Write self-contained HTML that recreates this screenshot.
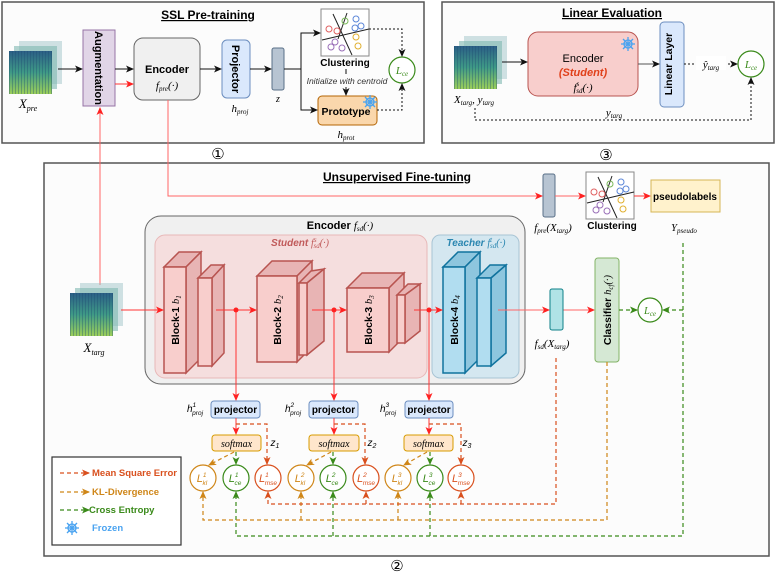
<!DOCTYPE html>
<html><head><meta charset="utf-8"><style>
html,body{margin:0;padding:0;background:#fff}
svg{display:block}
text{font-family:"Liberation Sans",sans-serif}
.m{font-family:"Liberation Serif",serif;font-style:italic}
.b{font-weight:bold}
</style></head><body>
<svg width="776" height="576" viewBox="0 0 776 576" xmlns="http://www.w3.org/2000/svg">
<defs>
<marker id="ak" markerWidth="8" markerHeight="8" refX="7" refY="4" orient="auto" markerUnits="userSpaceOnUse"><path d="M0,0.5 L8,4 L0,7.5 L2,4 Z" fill="#111"/></marker>
<marker id="ar" markerWidth="8" markerHeight="8" refX="7" refY="4" orient="auto" markerUnits="userSpaceOnUse"><path d="M0,0.5 L8,4 L0,7.5 L2,4 Z" fill="#f22"/></marker>
<marker id="am" markerWidth="8" markerHeight="8" refX="7" refY="4" orient="auto" markerUnits="userSpaceOnUse"><path d="M0,0.5 L8,4 L0,7.5 L2,4 Z" fill="#d9501e"/></marker>
<marker id="ao" markerWidth="8" markerHeight="8" refX="7" refY="4" orient="auto" markerUnits="userSpaceOnUse"><path d="M0,0.5 L8,4 L0,7.5 L2,4 Z" fill="#cf8618"/></marker>
<marker id="ag" markerWidth="8" markerHeight="8" refX="7" refY="4" orient="auto" markerUnits="userSpaceOnUse"><path d="M0,0.5 L8,4 L0,7.5 L2,4 Z" fill="#3a8a1a"/></marker>
<linearGradient id="sp" x1="0" y1="0" x2="0" y2="1"><stop offset="0" stop-color="#2b5f86"/><stop offset="0.5" stop-color="#3f9a86"/><stop offset="1" stop-color="#9ccf5a"/></linearGradient>
<pattern id="st" width="3" height="6" patternUnits="userSpaceOnUse"><rect width="1" height="6" fill="#1d4a70" opacity="0.35"/></pattern>
<g id="spec">
<rect x="10" y="0" width="43" height="43" fill="#9fc4c8" opacity="0.5"/>
<rect x="5" y="5" width="43" height="43" fill="#7fb7b0" opacity="0.6"/>
<rect x="0" y="10" width="43" height="43" fill="url(#sp)"/>
<rect x="0" y="10" width="43" height="43" fill="url(#st)"/>
</g>
<g id="clu">
<rect x="0" y="0" width="48" height="47" fill="#fff" stroke="#888"/>
<line x1="12" y1="5" x2="31" y2="46" stroke="#222"/>
<line x1="26" y1="4" x2="17" y2="30" stroke="#222"/>
<line x1="1" y1="31" x2="48" y2="20" stroke="#222"/>
<g fill="none" stroke-width="1">
<circle cx="8" cy="20" r="3" stroke="#e06060"/><circle cx="16" cy="22" r="3" stroke="#e06060"/>
<circle cx="24" cy="12" r="3" stroke="#7ab85a"/>
<circle cx="35" cy="10" r="3" stroke="#5b86d8"/><circle cx="40" cy="17" r="3" stroke="#5b86d8"/><circle cx="34" cy="19" r="3" stroke="#5b86d8"/>
<circle cx="14" cy="33" r="3" stroke="#9a70b8"/><circle cx="10" cy="38" r="3" stroke="#9a70b8"/><circle cx="21" cy="39" r="3" stroke="#9a70b8"/>
<circle cx="35" cy="28" r="3" stroke="#e0b030"/><circle cx="37" cy="37" r="3" stroke="#e0b030"/>
</g>
</g>
<g id="snow" stroke="#4aa3f0" stroke-width="1.3" fill="none">
<circle cx="0" cy="0" r="4"/><line x1="-7" y1="0" x2="7" y2="0"/><line x1="0" y1="-7" x2="0" y2="7"/><line x1="-5" y1="-5" x2="5" y2="5"/><line x1="-5" y1="5" x2="5" y2="-5"/>
</g>
</defs>

<!-- Box 1 -->
<rect x="2" y="2" width="422" height="141" fill="#fcfcfc" stroke="#555" stroke-width="1.5"/>
<text x="208" y="19" text-anchor="middle" class="b" font-size="12" text-decoration="underline">SSL Pre-training</text>
<use href="#spec" x="9" y="41"/>
<text x="28" y="108" class="m" font-size="13" text-anchor="middle">X<tspan font-size="8" dy="3">pre</tspan></text>
<rect x="83" y="30" width="32" height="76" fill="#e1d5e7" stroke="#9673a6"/>
<text transform="translate(95,68) rotate(90)" text-anchor="middle" class="b" font-size="11">Augmentation</text>
<rect x="134" y="38" width="66" height="62" rx="9" fill="#f0f0f0" stroke="#666"/>
<text x="167" y="73" text-anchor="middle" class="b" font-size="11">Encoder</text>
<text x="167" y="89" text-anchor="middle" class="m" font-size="11">f<tspan font-size="7" dy="2">pre</tspan><tspan dy="-2">(·)</tspan></text>
<rect x="222" y="40" width="28" height="58" rx="5" fill="#dae8fc" stroke="#6c8ebf"/>
<text transform="translate(232,69) rotate(90)" text-anchor="middle" class="b" font-size="11">Projector</text>
<text x="240" y="112" text-anchor="middle" class="m" font-size="11">h<tspan font-size="7" dy="2">proj</tspan></text>
<rect x="272" y="48" width="12" height="42" rx="2" fill="#b7c4d2" stroke="#5a7088"/>
<text x="278" y="102" text-anchor="middle" class="m" font-size="10">z</text>
<use href="#clu" x="321" y="9"/>
<text x="345" y="66" text-anchor="middle" class="b" font-size="10">Clustering</text>
<text x="347" y="84" text-anchor="middle" font-size="8.5" font-style="italic" fill="#333">Initialize with centroid</text>
<rect x="318" y="96" width="59" height="29" rx="4" fill="#fad7ac" stroke="#b46504"/>
<text x="346" y="115" text-anchor="middle" class="b" font-size="10.5">Prototype</text>
<use href="#snow" x="370" y="102"/>
<text x="346" y="138" text-anchor="middle" class="m" font-size="11">h<tspan font-size="7" dy="2">prot</tspan></text>
<circle cx="402" cy="70" r="13" fill="#fff" stroke="#3a8a1a" stroke-width="1.2"/>
<text x="402" y="74" text-anchor="middle" class="m" font-size="11" fill="#3a8a1a">L<tspan font-size="7" dy="2">ce</tspan></text>
<g stroke="#111" fill="none" stroke-width="1">
<line x1="58" y1="69" x2="82" y2="69" marker-end="url(#ak)"/>
<line x1="115" y1="69" x2="133" y2="69" marker-end="url(#ak)"/>
<line x1="200" y1="69" x2="221" y2="69" marker-end="url(#ak)"/>
<line x1="250" y1="69" x2="271" y2="69" marker-end="url(#ak)"/>
<polyline points="284,69 301,69 301,33 320,33" marker-end="url(#ak)"/>
<polyline points="301,69 301,110 317,110" marker-end="url(#ak)"/>
<line x1="346" y1="69" x2="346" y2="74"/>
<line x1="346" y1="87" x2="346" y2="95" marker-end="url(#ak)"/>
<polyline points="369,29 402,29 402,56" stroke-dasharray="2,2" marker-end="url(#ak)"/>
<polyline points="377,110 402,110 402,84" stroke-dasharray="2,2" marker-end="url(#ak)"/>
</g>
<line x1="115" y1="84" x2="133" y2="84" stroke="#f33" marker-end="url(#ar)"/>
<text x="218" y="159" text-anchor="middle" font-size="15" font-family="DejaVu Sans">①</text>

<!-- Box 3 -->
<rect x="442" y="2" width="332" height="141" fill="#fcfcfc" stroke="#555" stroke-width="1.5"/>
<text x="612" y="17" text-anchor="middle" class="b" font-size="12" text-decoration="underline">Linear Evaluation</text>
<use href="#spec" x="454" y="36"/>
<text x="474" y="103" text-anchor="middle" class="m" font-size="11">X<tspan font-size="7" dy="2">targ</tspan><tspan dy="-2">, y</tspan><tspan font-size="7" dy="2">targ</tspan></text>
<rect x="528" y="32" width="110" height="64" rx="10" fill="#f8cecc" stroke="#b85450"/>
<use href="#snow" x="628" y="44"/>
<text x="583" y="62" text-anchor="middle" font-size="11">Encoder</text>
<text x="583" y="76" text-anchor="middle" class="b" font-size="11" font-style="italic" fill="#e0401a">(Student)</text>
<text x="583" y="91" text-anchor="middle" class="m" font-size="11">f<tspan font-size="7" dy="-5">s</tspan><tspan font-size="7" dx="-3" dy="7">sd</tspan><tspan dy="-2">(·)</tspan></text>
<rect x="660" y="22" width="24" height="85" rx="4" fill="#dae8fc" stroke="#6c8ebf"/>
<text transform="translate(672,64) rotate(-90)" text-anchor="middle" class="b" font-size="10.5">Linear Layer</text>
<line x1="502" y1="62" x2="527" y2="62" stroke="#111" marker-end="url(#ak)"/>
<line x1="638" y1="64" x2="659" y2="64" stroke="#555" marker-end="url(#ak)"/>
<line x1="684" y1="64" x2="737" y2="64" stroke="#111" stroke-dasharray="2,2" marker-end="url(#ak)"/>
<rect x="696" y="56" width="30" height="14" fill="#fff"/>
<text x="711" y="68" text-anchor="middle" class="m" font-size="11">ŷ<tspan font-size="7" dy="2">targ</tspan></text>
<circle cx="751" cy="64" r="13" fill="#fff" stroke="#3a8a1a" stroke-width="1.2"/>
<text x="751" y="68" text-anchor="middle" class="m" font-size="11" fill="#3a8a1a">L<tspan font-size="7" dy="2">ce</tspan></text>
<polyline points="475,108 475,120 751,120 751,78" fill="none" stroke="#111" stroke-dasharray="2,2" marker-end="url(#ak)"/>
<text x="614" y="116" text-anchor="middle" class="m" font-size="11">y<tspan font-size="7" dy="2">targ</tspan></text>
<text x="606" y="160" text-anchor="middle" font-size="15" font-family="DejaVu Sans">③</text>

<!-- Box 2 -->
<rect x="44" y="163" width="725" height="393" fill="#fcfcfc" stroke="#555" stroke-width="1.5"/>
<text x="397" y="181" text-anchor="middle" class="b" font-size="12" text-decoration="underline">Unsupervised Fine-tuning</text>
<text x="397" y="571" text-anchor="middle" font-size="15" font-family="DejaVu Sans">②</text>
<line x1="100" y1="285" x2="100" y2="108" stroke="#f66" marker-end="url(#ar)"/>
<polyline points="168,100 168,196 542,196" fill="none" stroke="#f66" marker-end="url(#ar)"/>
<rect x="543" y="174" width="12" height="43" rx="2" fill="#b7c4d2" stroke="#5a7088"/>
<text x="553" y="231" text-anchor="middle" class="m" font-size="11">f<tspan font-size="7" dy="2">pre</tspan><tspan dy="-2">(X</tspan><tspan font-size="7" dy="2">targ</tspan><tspan dy="-2">)</tspan></text>
<line x1="555" y1="196" x2="585" y2="196" stroke="#f66" marker-end="url(#ar)"/>
<use href="#clu" x="586" y="172"/>
<text x="612" y="229" text-anchor="middle" class="b" font-size="10">Clustering</text>
<line x1="634" y1="196" x2="650" y2="196" stroke="#f33" marker-end="url(#ar)"/>
<rect x="651" y="180" width="69" height="32" fill="#fff2cc" stroke="#d6b656"/>
<text x="685" y="200" text-anchor="middle" class="b" font-size="10">pseudolabels</text>
<text x="684" y="231" text-anchor="middle" class="m" font-size="10.5">Y<tspan font-size="7" dy="2">pseudo</tspan></text>

<use href="#spec" x="70" y="283"/>
<text x="94" y="352" text-anchor="middle" class="m" font-size="13">X<tspan font-size="8" dy="3">targ</tspan></text>

<rect x="145" y="216" width="380" height="168" rx="16" fill="#f0f0f0" stroke="#666"/>
<text x="340" y="229" text-anchor="middle" font-size="11"><tspan class="b">Encoder </tspan><tspan class="m">f<tspan font-size="7" dy="2">sd</tspan><tspan dy="-2">(·)</tspan></tspan></text>
<rect x="155" y="235" width="272" height="143" rx="10" fill="#f5dede" stroke="#e8b8b8"/>
<text x="300" y="246" text-anchor="middle" font-size="10" fill="#c05a5a"><tspan font-style="italic" font-weight="bold">Student </tspan><tspan class="m">f<tspan font-size="7" dy="-4">s</tspan><tspan font-size="7" dx="-3" dy="6">sd</tspan><tspan dy="-2">(·)</tspan></tspan></text>
<rect x="432" y="235" width="87" height="143" rx="8" fill="#d4e7f0" stroke="#a8c4d4"/>
<text x="476" y="246" text-anchor="middle" font-size="10" fill="#2a86b0"><tspan font-style="italic" font-weight="bold">Teacher </tspan><tspan class="m">f<tspan font-size="7" dy="-4">t</tspan><tspan font-size="7" dx="-2" dy="6">sd</tspan><tspan dy="-2">(·)</tspan></tspan></text>

<g stroke="#b85450" stroke-width="1.5" fill="#f8cecc">
<polygon points="164,267 179,252 201,252 186,267" fill="#e8b4b4"/><polygon points="186,267 201,252 201,358 186,373" fill="#e8b4b4"/><rect x="164" y="267" width="22" height="106"/>
<polygon points="198,278 211,265 224,265 212,278" fill="#e8b4b4"/><polygon points="212,278 224,265 224,353 212,366" fill="#e8b4b4"/><rect x="198" y="278" width="14" height="88"/>
<polygon points="257,276 272,261 312,261 297,276" fill="#e8b4b4"/><polygon points="297,276 312,261 312,347 297,362" fill="#e8b4b4"/><rect x="257" y="276" width="40" height="86"/>
<polygon points="299,283 311,271 324,269 307,283" fill="#e8b4b4"/><polygon points="307,283 324,269 324,341 307,355" fill="#e8b4b4"/><rect x="299" y="283" width="8" height="72"/>
<polygon points="347,288 362,273 404,273 389,288" fill="#e8b4b4"/><polygon points="389,288 404,273 404,337 389,352" fill="#e8b4b4"/><rect x="347" y="288" width="42" height="64"/>
<polygon points="397,295 408,284 420,284 405,295" fill="#e8b4b4"/><polygon points="405,295 420,284 420,331 405,343" fill="#e8b4b4"/><rect x="397" y="295" width="8" height="48"/>
</g>
<g stroke="#10739e" stroke-width="1.5" fill="#b1ddf0">
<polygon points="443,267 458,252 480,252 465,267" fill="#8ec6de"/><polygon points="465,267 480,252 480,358 465,373" fill="#8ec6de"/><rect x="443" y="267" width="22" height="106"/>
<polygon points="477,278 490,265 506,265 491,278" fill="#8ec6de"/><polygon points="491,278 506,265 506,353 491,366" fill="#8ec6de"/><rect x="477" y="278" width="14" height="88"/>
</g>
<g class="b" font-size="10.5">
<text transform="translate(179,320) rotate(-90)" text-anchor="middle">Block-1 <tspan class="m" font-weight="normal">b<tspan font-size="7" dy="2">1</tspan></tspan></text>
<text transform="translate(281,320) rotate(-90)" text-anchor="middle">Block-2 <tspan class="m" font-weight="normal">b<tspan font-size="7" dy="2">2</tspan></tspan></text>
<text transform="translate(372,320) rotate(-90)" text-anchor="middle">Block-3 <tspan class="m" font-weight="normal">b<tspan font-size="7" dy="2">3</tspan></tspan></text>
<text transform="translate(458,320) rotate(-90)" text-anchor="middle">Block-4 <tspan class="m" font-weight="normal">b<tspan font-size="7" dy="2">4</tspan></tspan></text>
</g>
<g stroke="#f33" fill="none">
<line x1="121" y1="310" x2="163" y2="310" marker-end="url(#ar)"/>
<line x1="216" y1="310" x2="256" y2="310" marker-end="url(#ar)"/>
<line x1="312" y1="310" x2="346" y2="310" marker-end="url(#ar)"/>
<line x1="414" y1="310" x2="442" y2="310" marker-end="url(#ar)"/>
<line x1="498" y1="310" x2="549" y2="310" stroke="#f66" marker-end="url(#ar)"/>
<line x1="563" y1="310" x2="594" y2="310" stroke="#f66" marker-end="url(#ar)"/>
<line x1="236" y1="310" x2="236" y2="400" marker-end="url(#ar)"/>
<line x1="334" y1="310" x2="334" y2="400" marker-end="url(#ar)"/>
<line x1="429" y1="310" x2="429" y2="400" marker-end="url(#ar)"/>
</g>
<g fill="#f22"><circle cx="236" cy="310" r="2.5"/><circle cx="334" cy="310" r="2.5"/><circle cx="429" cy="310" r="2.5"/></g>

<rect x="550" y="289" width="13" height="41" rx="2" fill="#b0e3e6" stroke="#0e8088"/>
<text x="552" y="347" text-anchor="middle" class="m" font-size="11">f<tspan font-size="7" dy="2">sd</tspan><tspan dy="-2">(X</tspan><tspan font-size="7" dy="2">targ</tspan><tspan dy="-2">)</tspan></text>
<rect x="595" y="258" width="24" height="104" rx="3" fill="#d5e8d4" stroke="#82b366"/>
<text transform="translate(611,310) rotate(-90)" text-anchor="middle" class="b" font-size="10.5">Classifier <tspan class="m" font-weight="normal">h<tspan font-size="7" dy="2">cf</tspan><tspan dy="-2">(·)</tspan></tspan></text>
<circle cx="650" cy="310" r="12" fill="#fff" stroke="#3a8a1a" stroke-width="1.2"/>
<text x="650" y="314" text-anchor="middle" class="m" font-size="10.5" fill="#3a8a1a">L<tspan font-size="7" dy="2">ce</tspan></text>
<g fill="none" stroke-width="1.2" stroke-dasharray="4,3">
<line x1="619" y1="310" x2="637" y2="310" stroke="#3a8a1a" marker-end="url(#ag)"/>
<line x1="683" y1="310" x2="663" y2="310" stroke="#3a8a1a" marker-end="url(#ag)"/>
<polyline points="683,243 683,536 236,536 236,492" stroke="#3a8a1a" marker-end="url(#ag)"/>
<line x1="333" y1="536" x2="333" y2="492" stroke="#3a8a1a" marker-end="url(#ag)"/>
<line x1="430" y1="536" x2="430" y2="492" stroke="#3a8a1a" marker-end="url(#ag)"/>
<polyline points="607,362 607,520 203,520 203,492" stroke="#cf8618" marker-end="url(#ao)"/>
<line x1="301" y1="520" x2="301" y2="492" stroke="#cf8618" marker-end="url(#ao)"/>
<line x1="398" y1="520" x2="398" y2="492" stroke="#cf8618" marker-end="url(#ao)"/>
<polyline points="556,358 556,504 268,504 268,492" stroke="#d9501e" marker-end="url(#am)"/>
<line x1="366" y1="504" x2="366" y2="492" stroke="#d9501e" marker-end="url(#am)"/>
<line x1="461" y1="504" x2="461" y2="492" stroke="#d9501e" marker-end="url(#am)"/>
</g>

<g font-size="10">
<rect x="211" y="401" width="49" height="17" rx="3" fill="#dae8fc" stroke="#6c8ebf"/>
<text x="235.5" y="413" text-anchor="middle" class="b">projector</text>
<rect x="309" y="401" width="49" height="17" rx="3" fill="#dae8fc" stroke="#6c8ebf"/>
<text x="333.5" y="413" text-anchor="middle" class="b">projector</text>
<rect x="405" y="401" width="48" height="17" rx="3" fill="#dae8fc" stroke="#6c8ebf"/>
<text x="429" y="413" text-anchor="middle" class="b">projector</text>
<rect x="212" y="435" width="49" height="16" rx="3" fill="#ffe6cc" stroke="#d79b00"/>
<text x="236.5" y="447" text-anchor="middle" class="m">softmax</text>
<rect x="309" y="435" width="50" height="16" rx="3" fill="#ffe6cc" stroke="#d79b00"/>
<text x="334" y="447" text-anchor="middle" class="m">softmax</text>
<rect x="404" y="435" width="49" height="16" rx="3" fill="#ffe6cc" stroke="#d79b00"/>
<text x="428.5" y="447" text-anchor="middle" class="m">softmax</text>
</g>
<g class="m" font-size="10">
<text x="195" y="412" text-anchor="middle">h<tspan font-size="6.5" dy="-5">1</tspan><tspan font-size="6.5" dx="-4" dy="8">proj</tspan></text>
<text x="293" y="412" text-anchor="middle">h<tspan font-size="6.5" dy="-5">2</tspan><tspan font-size="6.5" dx="-4" dy="8">proj</tspan></text>
<text x="388" y="412" text-anchor="middle">h<tspan font-size="6.5" dy="-5">3</tspan><tspan font-size="6.5" dx="-4" dy="8">proj</tspan></text>
<text x="275" y="446" text-anchor="middle">z<tspan font-size="7" dy="2">1</tspan></text>
<text x="372" y="446" text-anchor="middle">z<tspan font-size="7" dy="2">2</tspan></text>
<text x="467" y="446" text-anchor="middle">z<tspan font-size="7" dy="2">3</tspan></text>
</g>
<g stroke="#f33" fill="none">
<line x1="236" y1="418" x2="236" y2="434" marker-end="url(#ar)"/>
<line x1="334" y1="418" x2="334" y2="434" marker-end="url(#ar)"/>
<line x1="429" y1="418" x2="429" y2="434" marker-end="url(#ar)"/>
</g>
<g fill="none" stroke-width="1.2" stroke-dasharray="4,3">
<polyline points="236,424 267,424 267,464" stroke="#d9501e" marker-end="url(#am)"/>
<polyline points="334,424 365,424 365,464" stroke="#d9501e" marker-end="url(#am)"/>
<polyline points="429,424 461,424 461,464" stroke="#d9501e" marker-end="url(#am)"/>
<line x1="234" y1="452" x2="209" y2="465" stroke="#cf8618" marker-end="url(#ao)"/>
<line x1="331" y1="452" x2="307" y2="465" stroke="#cf8618" marker-end="url(#ao)"/>
<line x1="427" y1="452" x2="404" y2="465" stroke="#cf8618" marker-end="url(#ao)"/>
<line x1="236" y1="452" x2="236" y2="464" stroke="#3a8a1a" marker-end="url(#ag)"/>
<line x1="333" y1="452" x2="333" y2="464" stroke="#3a8a1a" marker-end="url(#ag)"/>
<line x1="430" y1="452" x2="430" y2="464" stroke="#3a8a1a" marker-end="url(#ag)"/>
</g>
<g fill="#fff" stroke-width="1.2">
<circle cx="203" cy="478" r="13" stroke="#cf8618"/><circle cx="236" cy="478" r="13" stroke="#3a8a1a"/><circle cx="268" cy="478" r="13" stroke="#d9501e"/>
<circle cx="301" cy="478" r="13" stroke="#cf8618"/><circle cx="333" cy="478" r="13" stroke="#3a8a1a"/><circle cx="366" cy="478" r="13" stroke="#d9501e"/>
<circle cx="398" cy="478" r="13" stroke="#cf8618"/><circle cx="430" cy="478" r="13" stroke="#3a8a1a"/><circle cx="461" cy="478" r="13" stroke="#d9501e"/>
</g>
<g class="m" font-size="11" text-anchor="middle">
<text x="202" y="482" fill="#cf8618">L<tspan font-size="6.5" dy="-5">1</tspan><tspan font-size="6.5" dx="-4" dy="8">kl</tspan></text>
<text x="235" y="482" fill="#3a8a1a">L<tspan font-size="6.5" dy="-5">1</tspan><tspan font-size="6.5" dx="-4" dy="8">ce</tspan></text>
<text x="268" y="482" fill="#d9501e">L<tspan font-size="6.5" dy="-5">1</tspan><tspan font-size="6.5" dx="-4" dy="8">mse</tspan></text>
<text x="300" y="482" fill="#cf8618">L<tspan font-size="6.5" dy="-5">2</tspan><tspan font-size="6.5" dx="-4" dy="8">kl</tspan></text>
<text x="332" y="482" fill="#3a8a1a">L<tspan font-size="6.5" dy="-5">2</tspan><tspan font-size="6.5" dx="-4" dy="8">ce</tspan></text>
<text x="366" y="482" fill="#d9501e">L<tspan font-size="6.5" dy="-5">2</tspan><tspan font-size="6.5" dx="-4" dy="8">mse</tspan></text>
<text x="397" y="482" fill="#cf8618">L<tspan font-size="6.5" dy="-5">3</tspan><tspan font-size="6.5" dx="-4" dy="8">kl</tspan></text>
<text x="429" y="482" fill="#3a8a1a">L<tspan font-size="6.5" dy="-5">3</tspan><tspan font-size="6.5" dx="-4" dy="8">ce</tspan></text>
<text x="461" y="482" fill="#d9501e">L<tspan font-size="6.5" dy="-5">3</tspan><tspan font-size="6.5" dx="-4" dy="8">mse</tspan></text>
</g>

<rect x="52" y="457" width="129" height="88" fill="#fff" stroke="#333" stroke-width="1.2"/>
<g fill="none" stroke-width="1.2" stroke-dasharray="4,3">
<line x1="60" y1="473" x2="89" y2="473" stroke="#d9501e" marker-end="url(#am)"/>
<line x1="60" y1="492" x2="89" y2="492" stroke="#cf8618" marker-end="url(#ao)"/>
<line x1="60" y1="510" x2="89" y2="510" stroke="#3a8a1a" marker-end="url(#ag)"/>
</g>
<g class="b" font-size="9.5">
<text x="92" y="476" fill="#d9501e">Mean Square Error</text>
<text x="92" y="495" fill="#cf8618">KL-Divergence</text>
<text x="89" y="513" fill="#3a8a1a">Cross Entropy</text>
<text x="92" y="531" fill="#4aa3f0">Frozen</text>
</g>
<use href="#snow" x="72" y="528"/>
</svg>
</body></html>
